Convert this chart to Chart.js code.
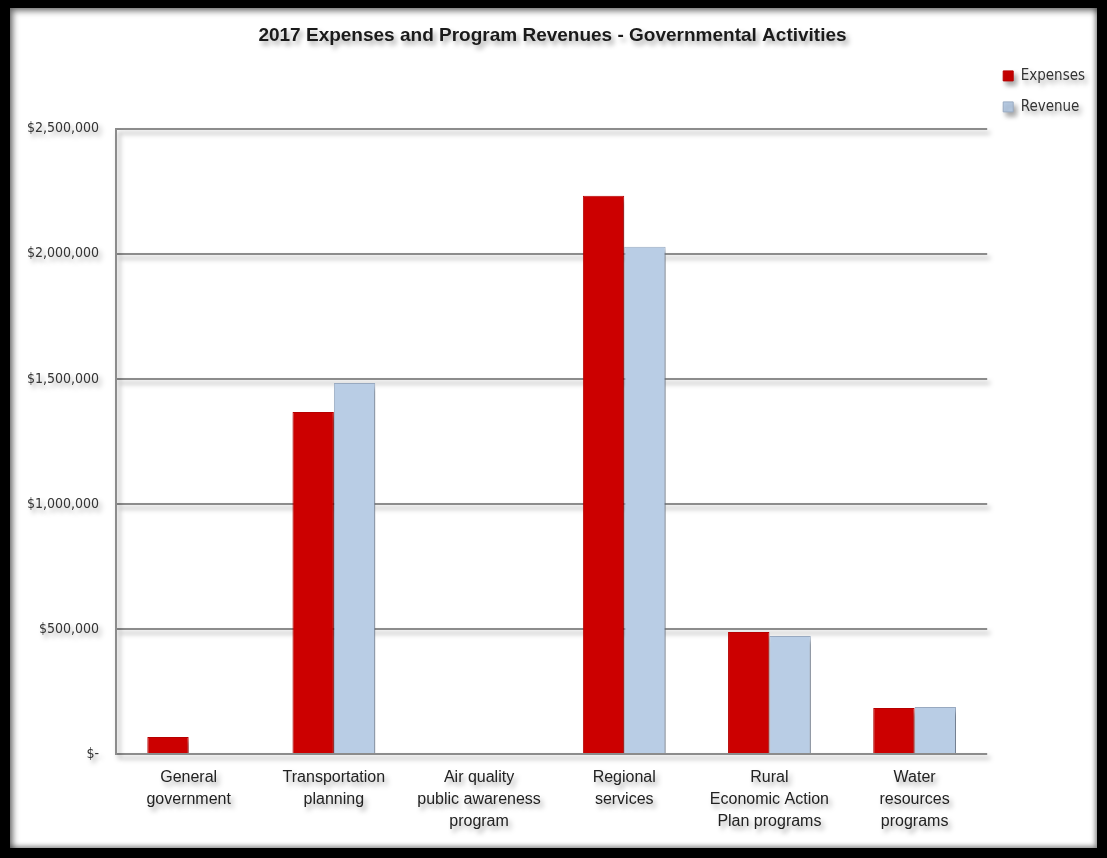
<!DOCTYPE html>
<html>
<head>
<meta charset="utf-8">
<script src="https://cdn.jsdelivr.net/npm/chart.js@4.4.0/dist/chart.umd.min.js"></script>
<style>
  html, body { margin: 0; padding: 0; background: #000; }
  #moldura {
    position: absolute; left: 10px; top: 8px; width: 1087px; height: 840px;
    background: #fff; box-shadow: inset 3px 3px 6px rgba(0,0,0,0.55), inset -2px -2px 5px rgba(0,0,0,0.4);
  }
  #grafico { display: block; }
</style>
</head>
<body>
<div id="moldura"><canvas id="grafico" width="1087" height="840"></canvas></div>
<script>
var categorias = [
  ['General', 'government'],
  ['Transportation', 'planning'],
  ['Air quality', 'public awareness', 'program'],
  ['Regional', 'services'],
  ['Rural', 'Economic Action', 'Plan programs'],
  ['Water', 'resources', 'programs']
];
var despesas = [68000, 1368000, 0, 2232000, 488000, 184000];
var receitas = [0, 1484000, 0, 2028000, 472000, 188000];
var ticksY = [0, 500000, 1000000, 1500000, 2000000, 2500000];

var fonteEstreita = "'Liberation Sans Narrow', 'DejaVu Sans Condensed', sans-serif";

// sombra em tudo, igual ao grafico original do excel
var sombra = {
  id: 'sombra',
  beforeDraw: function(chart) {
    var ctx = chart.ctx;
    ctx.save();
    ctx.shadowColor = 'rgba(0,0,0,0.35)';
    ctx.shadowBlur = 5;
    ctx.shadowOffsetX = 3;
    ctx.shadowOffsetY = 4;
  },
  afterDraw: function(chart) {
    chart.ctx.restore();
  }
};

function formataDolar(v) {
  if (v === 0) return '$-';
  return '$' + v.toLocaleString('en-US');
}

var ctx = document.getElementById('grafico').getContext('2d');
var chart = new Chart(ctx, {
  type: 'bar',
  data: {
    labels: categorias,
    datasets: [{
      label: 'Expenses',
      data: despesas,
      backgroundColor: '#cc0000',
      borderColor: '#b80000',
      borderWidth: 1
    }, {
      label: 'Revenue',
      data: receitas,
      backgroundColor: '#b9cde5',
      borderColor: '#9aabc2',
      borderWidth: 1
    }]
  },
  options: {
    responsive: false,
    animation: false,
    categoryPercentage: 0.57,
    barPercentage: 1,
    layout: { padding: { left: 0, right: 2, top: 10, bottom: 10 } },
    plugins: {
      tooltip: { enabled: false },
      title: {
        display: true,
        text: '2017 Expenses and Program Revenues - Governmental Activities',
        color: '#1a1a1a',
        font: { family: "'Liberation Sans', Arial, sans-serif", size: 19, weight: 'bold' },
        padding: { top: 6, bottom: 82 }
      },
      legend: {
        position: 'right',
        align: 'start',
        fullSize: true,
        title: { display: true, text: '', padding: { top: 20, bottom: 0 } },
        labels: {
          boxWidth: 10,
          boxHeight: 10,
          padding: 16,
          color: '#333',
          font: { family: fonteEstreita, size: 15 }
        }
      }
    },
    scales: {
      x: {
        grid: { display: false },
        border: { display: false },
        ticks: {
          color: '#222',
          padding: 5,
          maxRotation: 0,
          autoSkip: false,
          font: { family: "'Liberation Sans', Arial, sans-serif", size: 16, lineHeight: 1.375 }
        }
      },
      y: {
        min: 0,
        max: 2500000,
        afterBuildTicks: function(axis) {
          axis.ticks = ticksY.map(function(v) { return { value: v }; });
        },
        grid: { color: '#8c8c8c', lineWidth: 2, drawTicks: false },
        border: { display: true, color: '#8c8c8c', width: 2 },
        ticks: {
          color: '#333',
          padding: 17,
          font: { family: fonteEstreita, size: 14 },
          callback: function(v) { return formataDolar(v); }
        }
      }
    }
  },
  plugins: [sombra]
});
</script>
</body>
</html>
